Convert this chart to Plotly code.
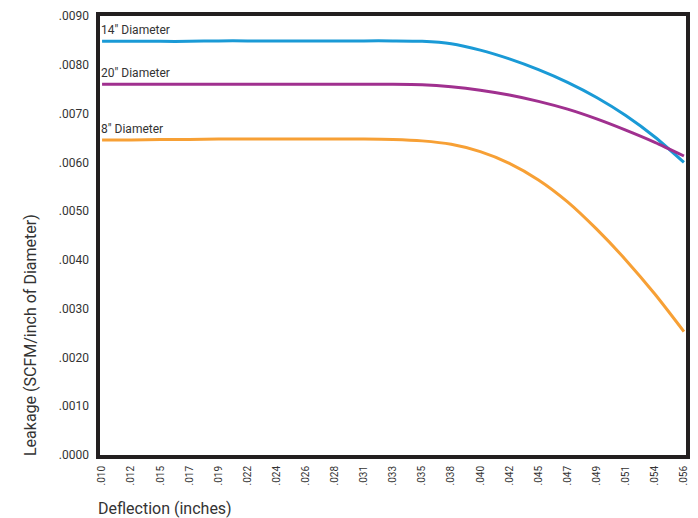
import plotly.graph_objects as go

deflection = [".010", ".012", ".015", ".017", ".019", ".022", ".024", ".026", ".028", ".031", ".033",
              ".035", ".038", ".040", ".042", ".045", ".047", ".049", ".051", ".054", ".056"]
d14 = [0.00848, 0.00848, 0.00848, 0.00848, 0.00849, 0.00849, 0.00849, 0.00849, 0.00849, 0.00849, 0.00849,
       0.00848, 0.00843, 0.00830, 0.00812, 0.00790, 0.00764, 0.00733, 0.00696, 0.00652, 0.00600]
d20 = [0.00760, 0.00760, 0.00760, 0.00760, 0.00760, 0.00760, 0.00760, 0.00760, 0.00760, 0.00760, 0.00760,
       0.00759, 0.00755, 0.00748, 0.00738, 0.00725, 0.00709, 0.00689, 0.00666, 0.00641, 0.00613]
d8 = [0.00646, 0.00646, 0.00647, 0.00647, 0.00648, 0.00648, 0.00648, 0.00648, 0.00648, 0.00648, 0.00647,
      0.00644, 0.00637, 0.00622, 0.00598, 0.00564, 0.00519, 0.00463, 0.00400, 0.00330, 0.00253]
series_names = ['14" Diameter', '20" Diameter', '8" Diameter']
colors = ["#1a9ad6", "#a0308f", "#f7a035"]
ytick_vals = [0.0, 0.001, 0.002, 0.003, 0.004, 0.005, 0.006, 0.007, 0.008, 0.009]
ytick_text = [".0000", ".0010", ".0020", ".0030", ".0040", ".0050", ".0060", ".0070", ".0080", ".0090"]

FONT = "Roboto, Liberation Sans, sans-serif"

fig = go.Figure()
for name, ys, c in zip(series_names, [d14, d20, d8], colors):
    fig.add_trace(go.Scatter(x=deflection, y=ys, mode="lines", name=name,
                             line=dict(color=c, width=3, shape="spline", smoothing=0.7),
                             showlegend=False))
    fig.add_annotation(x=0, y=ys[0], xref="x", yref="y", text=name, showarrow=False,
                       xanchor="left", yanchor="bottom", yshift=2, xshift=-3,
                       font=dict(family=FONT, size=12, color="#333333"))

fig.update_layout(
    width=698, height=518,
    margin=dict(l=98, r=10, t=14, b=61),
    plot_bgcolor="white", paper_bgcolor="white",
    font=dict(family=FONT, color="#333333"),
)
fig.update_xaxes(type="category", range=[-0.14, 20.14], showgrid=False, zeroline=False,
                 showline=False, ticks="", tickangle=-90, tickfont=dict(size=10, color="#333333"),
                 ticklabelstandoff=6)
fig.update_yaxes(range=[-0.000041, 0.009041], showgrid=False, zeroline=False, showline=False,
                 ticks="", tickvals=ytick_vals, ticktext=ytick_text,
                 tickfont=dict(size=12, color="#333333"), ticklabelstandoff=8)
fig.add_shape(type="rect", xref="paper", yref="paper", x0=0, x1=1, y0=0, y1=1,
              line=dict(color="#231f20", width=4), layer="above")
fig.add_annotation(text="Leakage (SCFM/inch of Diameter)", xref="paper", yref="paper",
                   x=(30-98)/590, y=(457-335)/443, textangle=-90, showarrow=False,
                   xanchor="center", yanchor="middle",
                   font=dict(family=FONT, size=16, color="#333333"))
fig.add_annotation(text="Deflection (inches)", xref="paper", yref="paper",
                   x=-2/590, y=-(508-457)/443, showarrow=False, xanchor="left", yanchor="middle",
                   font=dict(family=FONT, size=16, color="#333333"))

fig.write_html("out.html", config={"displayModeBar": False},
               post_script="document.body.style.margin='0';document.body.style.padding='0';")
